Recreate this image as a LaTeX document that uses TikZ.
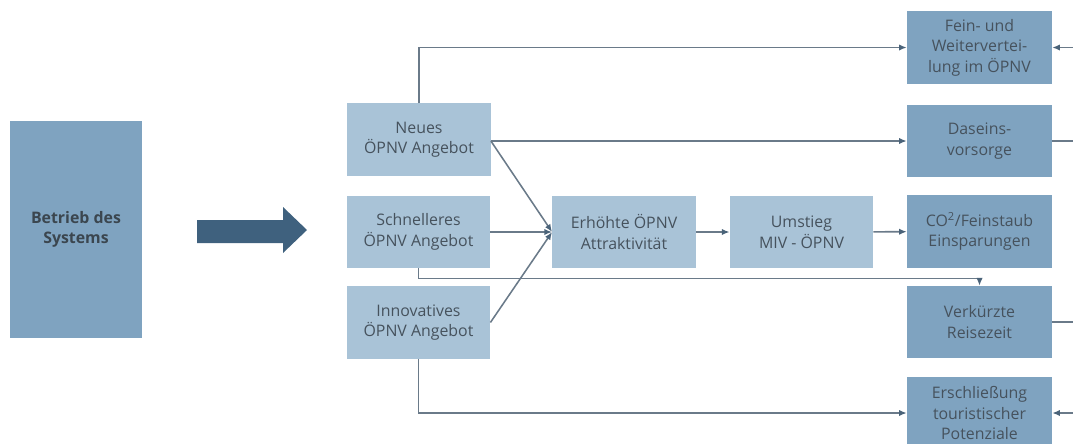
\documentclass[tikz,border=0pt]{standalone}
\usepackage{fontspec}
\setmainfont{Open Sans}
\usetikzlibrary{arrows.meta}
\definecolor{boxlight}{HTML}{A9C3D7}
\definecolor{boxdark}{HTML}{7FA3C0}
\definecolor{txt}{HTML}{46525D}
\definecolor{wire}{HTML}{6A7A89}
\definecolor{tip}{HTML}{4A6379}
\definecolor{bigarrow}{HTML}{3F617E}
\begin{document}
\begin{tikzpicture}[x=0.025cm, y=-0.025cm,
  lbox/.style={fill=boxlight, text=txt, align=center, minimum width=3.58cm, minimum height=1.8cm, inner sep=0pt, font=\fontsize{11.3}{14.6}\selectfont},
  rbox/.style={lbox, fill=boxdark, minimum width=3.62cm},
  wire/.style={draw=wire, line width=1.1pt},
  pfeil/.style={wire, -{Latex[length=5.5pt, width=4.5pt, color=tip]}}]
\useasboundingbox (0,0) rectangle (1073,443);

\node[fill=boxdark, text=txt!85!black, align=center, minimum width=3.3cm, minimum height=5.42cm, font=\bfseries\fontsize{11.3}{14.6}\selectfont] (sys) at (76,229.5){Betrieb des\\Systems};
\fill[bigarrow] (197,220) -- (283,220) -- (283,207) -- (307,230) -- (283,253) -- (283,243) -- (197,243) -- cycle;

% left column
\node[lbox] (neu) at (419,139.5){Neues\\ÖPNV Angebot};
\node[lbox] (schnell) at (418.5,232){Schnelleres\\ÖPNV Angebot};
\node[lbox] (innov) at (418.5,322.5){Innovatives\\ÖPNV Angebot};

% middle chain
\node[lbox] (attr) at (624,232){Erhöhte ÖPNV\\Attraktivität};
\node[lbox] (umst) at (801.5,232){Umstieg\\MIV - ÖPNV};

% right column
\node[rbox] (fein) at (979.5,47.5){Fein- und\\Weitervertei-\\lung im ÖPNV};
\node[rbox] (dasein) at (979.5,141){Daseins-\\vorsorge};
\node[rbox] (co2) at (979.5,231.5){CO\textsuperscript{2}/Feinstaub\\Einsparungen};
\node[rbox] (reise) at (979.5,322){Verkürzte\\Reisezeit};
\node[rbox] (ersch) at (979.5,413){Erschließung\\touristischer\\Potenziale};

% free ends at the right border
\coordinate (r1) at (1073,47.5);
\coordinate (r2) at (1073,141);
\coordinate (r4) at (1073,322);
\coordinate (r5) at (1073,413);

\draw[pfeil] (neu.north) |- (fein.west);
\draw[pfeil] (neu.east |- dasein.west) -- (dasein.west);
\draw[pfeil] (neu.east |- dasein.west) -- (attr.west);
\draw[pfeil] (schnell.east) -- (attr.west);
\draw[pfeil] (innov.east) -- (attr.west);
\draw[pfeil] (attr) -- (umst);
\draw[pfeil] (umst) -- (co2);
\draw[pfeil] (schnell.south) -- ++(0,10) -| (reise.north);
\draw[pfeil] (innov.south) |- (ersch.west);

\draw[pfeil] (r1) -- (fein.east);
\draw[wire] (dasein.east) -- (r2);
\draw[wire] (reise.east) -- (r4);
\draw[pfeil] (r5) -- (ersch.east);
\end{tikzpicture}
\end{document}
